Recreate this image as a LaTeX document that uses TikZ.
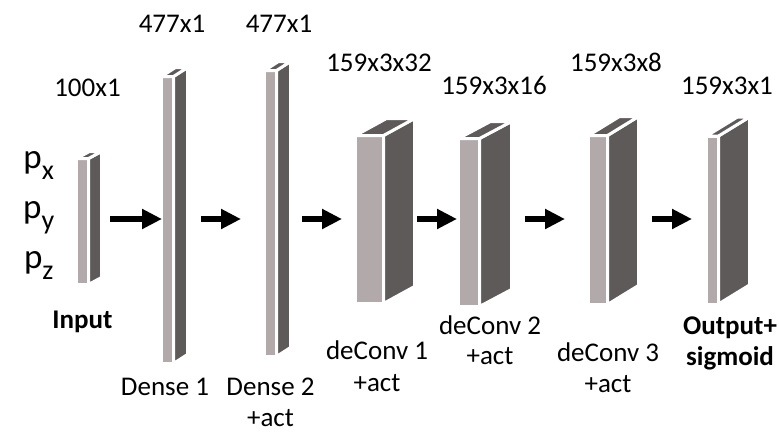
\documentclass[tikz,border=0pt]{standalone}
\usepackage{fontspec}
\setmainfont{Carlito}
\usepackage{tikz}
\usetikzlibrary{positioning, arrows.meta, calc}
\definecolor{lightface}{RGB}{178,170,170}
\definecolor{darkface}{RGB}{94,90,90}

\tikzset{
  front/.style={rectangle, draw=white, line width=3pt, fill=lightface, inner sep=0pt, outer sep=0pt},
  sideface/.style={draw=white, line width=3pt, fill=darkface, line join=round},
  dimlab/.style={font=\fontsize{27}{32}\selectfont, inner sep=0pt, text height=18pt, text depth=0pt},
  laybel/.style={font=\fontsize{27}{32}\selectfont, inner sep=0pt, text height=18pt, text depth=0pt},
  boldlab/.style={laybel, font=\fontsize{27}{32}\selectfont\bfseries},
  plab/.style={font=\fontsize{35}{40}\selectfont, inner sep=0pt, text height=20pt, text depth=14pt},
  arr/.style={line width=6pt, -{Triangle[length=20pt,width=19pt]}},
}

% side and top of a layer
\newcommand{\slab}[3]{%
  \draw[sideface] (#1.north east) -- ++(#2,#3) -- ([shift={(#2,#3)}]#1.south east) -- (#1.south east) -- cycle;
  \draw[sideface] (#1.north west) -- ++(#2,#3) -- ([shift={(#2,#3)}]#1.north east) -- (#1.north east) -- cycle;
}
\newcommand{\sub}[1]{\raisebox{-11pt}{\fontsize{28}{30}\selectfont #1}}

\begin{document}
\begin{tikzpicture}[x=1pt, y=-1pt]
			\useasboundingbox (0,0) rectangle (779,431);
			
			\node[front, minimum width=12pt, minimum height=126pt] (in) at (82.5,221.5) {};
			\node[front, minimum width=12pt, minimum height=287pt, right=73pt of in, yshift=1.5pt] (d1) {};
			\node[front, minimum width=12pt, minimum height=286pt, right=91pt of d1, yshift=6.5pt] (d2) {};
			\node[front, minimum width=28pt, minimum height=168pt, right=79pt of d2, yshift=-6pt] (c1) {};
			\node[front, minimum width=21pt, minimum height=168pt, right=75pt of c1, yshift=-3pt] (c2) {};
			\node[front, minimum width=19pt, minimum height=169pt, right=109pt of c2, yshift=2.5pt] (c3) {};
			\node[front, minimum width=12pt, minimum height=168pt, right=99pt of c3] (out) {};
			
			\slab{in}{13}{-7}
			\slab{d1}{14}{-9}
			\slab{d2}{14}{-9}
			\slab{c1}{31}{-17}
			\slab{c2}{32}{-17}
			\slab{c3}{31}{-19}
			\slab{out}{31}{-19}
			
			% arrows
			\coordinate (lvl) at (0,219);
			\draw[arr] ($(in.east |- lvl)+(21.5,0)$) -- ($(d1.west |- lvl)+(0.5,0)$);
			\draw[arr] ($(d1.east |- lvl)+(27.5,0)$) -- ($(d2.west |- lvl)+(-23.5,0)$);
			\draw[arr] ($(d2.east |- lvl)+(25.5,0)$) -- ($(c1.west |- lvl)+(-13.5,0)$);
			\draw[arr] ($(c1.east |- lvl)+(33.5,0)$) -- ($(c2.west |- lvl)+(-1.5,0)$);
			\draw[arr] ($(c2.east |- lvl)+(45.5,0)$) -- ($(c3.west |- lvl)+(-23.5,0)$);
			\draw[arr] ($(c3.east |- lvl)+(44.5,0)$) -- ($(out.west |- lvl)+(-14.5,0)$);
			
			% sizes
			\node[dimlab, above=61.5pt of in, xshift=5pt] (sin) {100x1};
			\node[dimlab, above=43.5pt of d1, xshift=4.5pt] (sd1) {477x1};
			\node[dimlab, above=37.5pt of d2, xshift=8.5pt] (sd2) {477x1};
			\node[dimlab, above=63.5pt of c1, xshift=9.5pt] (sc1) {159x3x32};
			\node[dimlab, above=43.5pt of c2, xshift=25pt] (sc2) {159x3x16};
			\node[dimlab, above=63.5pt of c3, xshift=18pt] (sc3) {159x3x8};
			\node[dimlab, above=41pt of out, xshift=14.5pt] (sout) {159x3x1};
			
			% inputs
			\node[plab, anchor=base west] (py) at (23,218.5) {p\sub{y}};
			\node[plab, above=16pt of py] (px) {p\sub{x}};
			\node[plab, below=16pt of py] (pz) {p\sub{z}};
			
			% layer names
			\node[boldlab, below=25.5pt of in] (lin) {Input};
			\node[laybel, below=13.5pt of d1, xshift=-2.5pt] (ld1) {Dense 1};
			\node[laybel, below=20.5pt of d2] (ld2) {Dense 2};
			\node[laybel, below=13pt of ld2] (ad2) {+act};
			\node[laybel, below=37.5pt of c1, xshift=7.5pt] (lc1) {deConv 1};
			\node[laybel, below=14pt of lc1] (ac1) {+act};
			\node[laybel, below=9.5pt of c2, xshift=21pt] (lc2) {deConv 2};
			\node[laybel, below=12pt of lc2] (ac2) {+act};
			\node[laybel, below=38.5pt of c3, xshift=10pt] (lc3) {deConv 3};
			\node[laybel, below=13pt of lc3] (ac3) {+act};
			\node[boldlab, below=12pt of out, xshift=17.5pt] (lout) {Output+};
			\node[boldlab, below=13pt of lout] (aout) {sigmoid};
			
		\end{tikzpicture}
\end{document}
